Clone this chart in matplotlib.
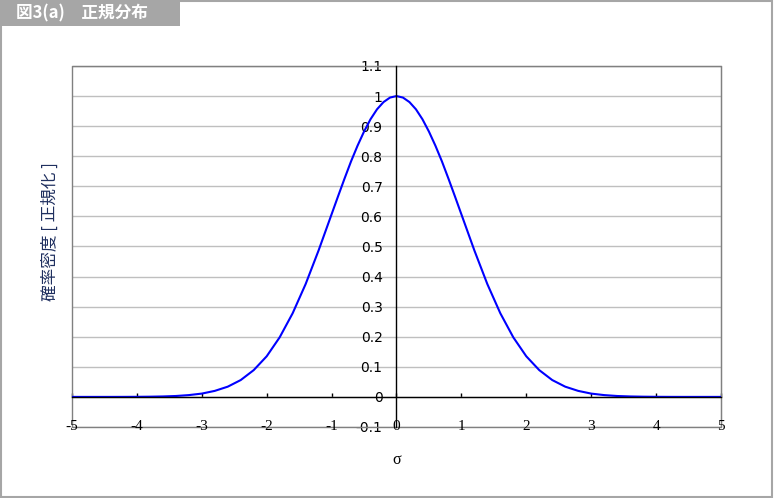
import matplotlib.pyplot as plt
from matplotlib.patches import Rectangle

# values (normalised probability density vs sigma)
sigma = [-5.0, -4.8, -4.6, -4.4, -4.2, -4.0, -3.8, -3.6, -3.4, -3.2,
         -3.0, -2.8, -2.6, -2.4, -2.2, -2.0, -1.8, -1.6, -1.4, -1.2,
         -1.0, -0.9, -0.8, -0.7, -0.6, -0.5, -0.4, -0.3, -0.2, -0.1,
         0.0, 0.1, 0.2, 0.3, 0.4, 0.5, 0.6, 0.7, 0.8, 0.9,
         1.0, 1.2, 1.4, 1.6, 1.8, 2.0, 2.2, 2.4, 2.6, 2.8,
         3.0, 3.2, 3.4, 3.6, 3.8, 4.0, 4.2, 4.4, 4.6, 4.8, 5.0]
density = [0.0, 0.0, 0.0, 0.0, 0.0001, 0.0003, 0.0007, 0.0015, 0.003, 0.006,
           0.011, 0.020, 0.034, 0.056, 0.089, 0.135, 0.198, 0.278, 0.375, 0.487,
           0.607, 0.667, 0.726, 0.783, 0.835, 0.882, 0.923, 0.956, 0.980, 0.995,
           1.0, 0.995, 0.980, 0.956, 0.923, 0.882, 0.835, 0.783, 0.726, 0.667,
           0.607, 0.487, 0.375, 0.278, 0.198, 0.135, 0.089, 0.056, 0.034, 0.020,
           0.011, 0.006, 0.003, 0.0015, 0.0007, 0.0003, 0.0001, 0.0, 0.0, 0.0, 0.0]
x_ticks = [-5, -4, -3, -2, -1, 0, 1, 2, 3, 4, 5]
y_ticks = [-0.1, 0, 0.1, 0.2, 0.3, 0.4, 0.5, 0.6, 0.7, 0.8, 0.9, 1.0, 1.1]
y_labels = ["-0.1", "0", "0.1", "0.2", "0.3", "0.4", "0.5", "0.6", "0.7", "0.8", "0.9", "1", "1.1"]

jp = ['Noto Sans CJK JP', 'DejaVu Sans']
serif = ['Liberation Serif', 'DejaVu Serif']

fig = plt.figure(figsize=(7.74, 4.98), dpi=100)
ax = fig.add_axes([0.093, 0.1426, 0.8385, 0.7249])

ax.plot(sigma, density, color="#0000FF", linewidth=1.5, zorder=3)

ax.set_xlim(-5, 5)
ax.set_ylim(-0.1, 1.1)

# horizontal grid
ax.set_yticks(y_ticks)
ax.set_yticklabels(y_labels, fontfamily=serif, fontsize=11)
ax.yaxis.grid(True, color="#BFBFBF", linewidth=1)
ax.set_axisbelow(True)

# axes cross at the origin
ax.spines['left'].set_position(('data', 0))
ax.spines['bottom'].set_position(('data', 0))
for s in ['left', 'bottom']:
    ax.spines[s].set_color('black')
    ax.spines[s].set_linewidth(1)
    ax.spines[s].set_zorder(4)
for s in ['top', 'right']:
    ax.spines[s].set_color('#808080')
ax.tick_params(axis='y', length=0, pad=10)
ax.set_xticks(x_ticks)
ax.tick_params(axis='x', direction='in', length=3, width=1, labelbottom=False)

# x tick labels sit on the bottom frame line
for t in x_ticks:
    ax.text(t, -0.1, str(t), ha='center', va='center', fontfamily=serif,
            fontsize=11, zorder=5)

# gray plot frame
ax.add_patch(Rectangle((0, 0), 1, 1, transform=ax.transAxes, fill=False,
                       edgecolor='#808080', linewidth=1, clip_on=False, zorder=2))

fig.text(397 / 774, 1 - 460 / 498, "σ", ha='center', va='center',
         fontfamily=serif, fontsize=11.5)
fig.text(50 / 774, 1 - 232 / 498, "確率密度 [ 正規化 ]", rotation=90,
         ha='center', va='center', fontfamily=jp, fontsize=12, color='#1f2f5f')

# figure border and title box
fig.patches.append(Rectangle((0.001, 0.002), 0.997, 0.996, transform=fig.transFigure,
                             fill=False, edgecolor='#A6A6A6', linewidth=1.5))
fig.patches.append(Rectangle((0, 1 - 26.5 / 498), 180 / 774, 26.5 / 498,
                             transform=fig.transFigure, facecolor='#A6A6A6',
                             edgecolor='none'))
fig.text(16 / 774, 1 - 13 / 498, "図3(a)　正規分布", ha='left', va='center',
         fontfamily=jp, fontsize=12, fontweight='bold', color='white')

fig.savefig("out.png", dpi=100)
